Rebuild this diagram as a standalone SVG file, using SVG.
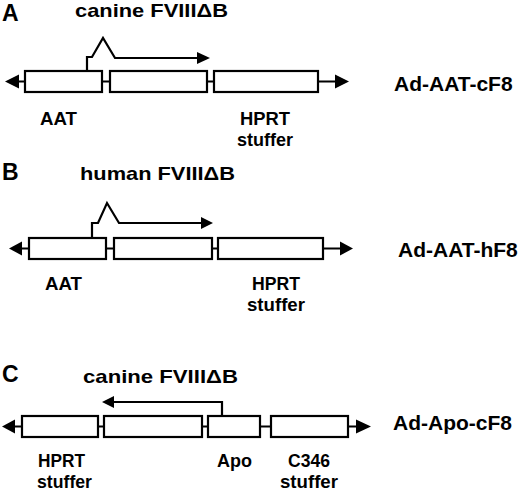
<svg xmlns="http://www.w3.org/2000/svg" width="520" height="491" viewBox="0 0 520 491">
<style>
text{font-family:"Liberation Sans",Arial,sans-serif;font-weight:bold;fill:#000}
.pl{font-size:23px}
.ti{font-size:19px}
.nm{font-size:21px}
.lb{font-size:18px}
.box{fill:#fff;stroke:#000;stroke-width:2.2}
.ln{fill:none;stroke:#000;stroke-width:2.2}
.ah{fill:#000;stroke:none}
</style>
<rect width="520" height="491" fill="#fff"/>
<g id="connectors">
<path class="ln" d="M19 81.5H25M102 81.5H110M207 81.5H214M318 81.5H335"/>
<polygon class="ah" points="5,81.5 19,74.5 19,88.5"/>
<polygon class="ah" points="335,74.5 349,81.5 335,88.5"/>
<path class="ln" d="M87 71V57H92L103 38L115 58H198"/>
<polygon class="ah" points="197,52 210,58 197,64"/>
<path class="ln" d="M22 248.5H29M106 248.5H114M212 248.5H218M323 248.5H340"/>
<polygon class="ah" points="9,248.5 22,241.5 22,255.5"/>
<polygon class="ah" points="340,241.5 353,248.5 340,255.5"/>
<path class="ln" d="M92 238V223H98L107 203L119 223H202"/>
<polygon class="ah" points="201,217 213,223 201,229"/>
<path class="ln" d="M15 426.5H22M98 426.5H104M202 426.5H208M260 426.5H271M348 426.5H356"/>
<polygon class="ah" points="2,426.5 15,419.5 15,433.5"/>
<polygon class="ah" points="356,419.5 371,426.5 356,433.5"/>
<path class="ln" d="M222 416V402H113"/>
<polygon class="ah" points="114,396 102,402 114,408"/>
</g>
<g id="panelA">
<text class="pl" x="2" y="21">A</text>
<text class="ti" x="75" y="17" textLength="153" lengthAdjust="spacingAndGlyphs">canine FVIIIΔB</text>
<text class="nm" x="394" y="91">Ad-AAT-cF8</text>
</g>
<g id="A-AAT"><rect class="box" x="25" y="71" width="77" height="21"/><text class="lb" x="40" y="125" textLength="37" lengthAdjust="spacingAndGlyphs">AAT</text></g>
<g id="A-FVIII"><rect class="box" x="110" y="71" width="97" height="21"/></g>
<g id="A-HPRT"><rect class="box" x="214" y="71" width="104" height="21"/><text class="lb" x="240" y="125" textLength="50" lengthAdjust="spacingAndGlyphs">HPRT</text><text class="lb" x="237" y="146" textLength="56" lengthAdjust="spacingAndGlyphs">stuffer</text></g>
<g id="panelB">
<text class="pl" x="2" y="180">B</text>
<text class="ti" x="80" y="180" textLength="155" lengthAdjust="spacingAndGlyphs">human FVIIIΔB</text>
<text class="nm" x="398" y="257">Ad-AAT-hF8</text>
</g>
<g id="B-AAT"><rect class="box" x="29" y="238" width="77" height="21"/><text class="lb" x="45" y="290" textLength="37" lengthAdjust="spacingAndGlyphs">AAT</text></g>
<g id="B-FVIII"><rect class="box" x="114" y="238" width="98" height="21"/></g>
<g id="B-HPRT"><rect class="box" x="218" y="238" width="105" height="21"/><text class="lb" x="252" y="290" textLength="48" lengthAdjust="spacingAndGlyphs">HPRT</text><text class="lb" x="247" y="311" textLength="58" lengthAdjust="spacingAndGlyphs">stuffer</text></g>
<g id="panelC">
<text class="pl" x="2" y="382">C</text>
<text class="ti" x="83" y="383" textLength="155" lengthAdjust="spacingAndGlyphs">canine FVIIIΔB</text>
<text class="nm" x="393" y="430">Ad-Apo-cF8</text>
</g>
<g id="C-HPRT"><rect class="box" x="22" y="416" width="76" height="21"/><text class="lb" x="38" y="467" textLength="47" lengthAdjust="spacingAndGlyphs">HPRT</text><text class="lb" x="37" y="488" textLength="55" lengthAdjust="spacingAndGlyphs">stuffer</text></g>
<g id="C-FVIII"><rect class="box" x="104" y="416" width="98" height="21"/></g>
<g id="C-Apo"><rect class="box" x="208" y="416" width="52" height="21"/><text class="lb" x="217" y="467" textLength="35" lengthAdjust="spacingAndGlyphs">Apo</text></g>
<g id="C-C346"><rect class="box" x="271" y="416" width="77" height="21"/><text class="lb" x="288" y="467" textLength="42" lengthAdjust="spacingAndGlyphs">C346</text><text class="lb" x="280" y="488" textLength="58" lengthAdjust="spacingAndGlyphs">stuffer</text></g>
</svg>
